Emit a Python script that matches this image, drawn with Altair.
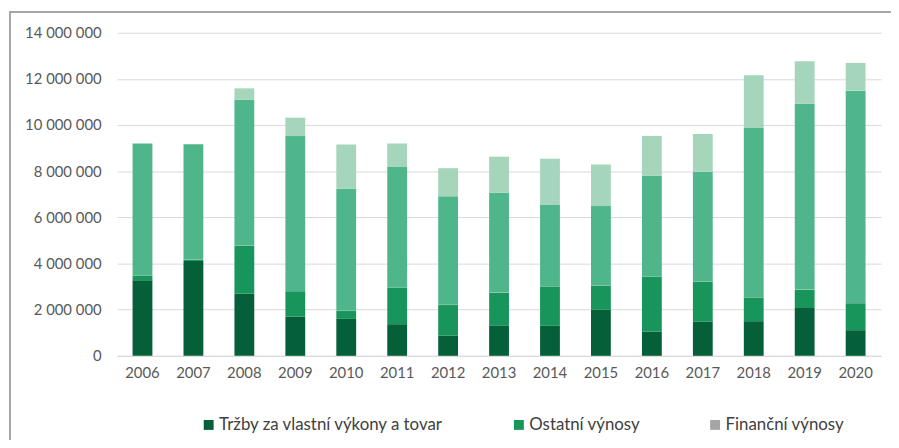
import altair as alt
import pandas as pd

years = [str(y) for y in range(2006, 2021)]
trzby = [3.27, 4.11, 2.70, 1.70, 1.60, 1.37, 0.87, 1.32, 1.30, 2.01, 1.04, 1.49, 1.50, 2.07, 1.11]
ostatne = [0.21, 0.06, 2.07, 1.10, 0.34, 1.57, 1.33, 1.41, 1.71, 1.03, 2.38, 1.72, 1.03, 0.79, 1.17]
financne = [0.01, 0.01, 0.01, 0.01, 0.01, 0.01, 0.01, 0.01, 0.01, 0.01, 0.01, 0.01, 0.01, 0.01, 0.01]
dotacie = [5.71, 4.99, 6.31, 6.71, 5.29, 5.25, 4.70, 4.32, 3.54, 3.44, 4.37, 4.75, 7.33, 8.05, 9.20]
ine = [0.00, 0.00, 0.50, 0.80, 1.92, 1.00, 1.22, 1.57, 1.98, 1.80, 1.73, 1.64, 2.29, 1.84, 1.20]

series_names = ["Tržby za vlastní výkony a tovar", "Ostatní výnosy", "Finanční výnosy",
                "Výnosy z transferov", "Príspevky"]
series_vals = [trzby, ostatne, financne, dotacie, ine]
colors = ["#05603a", "#17955a", "#a5a5a5", "#4fb58a", "#a5d5bb"]

rows = []
for i, (name, vals) in enumerate(zip(series_names, series_vals)):
    for y, v in zip(years, vals):
        rows.append({"rok": y, "séria": name, "hodnota": v * 1_000_000, "poradie": i})
df = pd.DataFrame(rows)

font = "Lato"

bars = alt.Chart(df).mark_bar(size=20).encode(
    x=alt.X("rok:N", title=None, scale=alt.Scale(paddingInner=0.6, paddingOuter=0.3),
            axis=alt.Axis(labelAngle=0, labelFontSize=15, labelColor="#595959", labelFont=font,
                          ticks=False, domain=True, domainColor="#d9d9d9", labelPadding=10)),
    y=alt.Y("hodnota:Q", title=None, stack="zero",
            scale=alt.Scale(domain=[0, 14_000_000], nice=False),
            axis=alt.Axis(values=[0, 2e6, 4e6, 6e6, 8e6, 10e6, 12e6, 14e6],
                          labelExpr="replace(format(datum.value, ','), regexp(',', 'g'), ' ')",
                          labelFontSize=15, labelColor="#595959", labelFont=font,
                          ticks=False, domain=False, gridColor="#d9d9d9", labelPadding=16)),
    color=alt.Color("séria:N", scale=alt.Scale(domain=series_names, range=colors),
                    legend=alt.Legend(title=None, orient="none", legendX=84, legendY=387,
                                      direction="horizontal", values=series_names[:3],
                                      symbolType="square", symbolSize=100, symbolStrokeWidth=0,
                                      labelFontSize=17, labelColor="#404040", labelFont=font,
                                      labelLimit=0, columnPadding=67, symbolOffset=0,
                                      labelOffset=2)),
    order=alt.Order("poradie:Q", sort="ascending"),
)

frame_df = pd.DataFrame({"a": [0]})
frame_left = alt.Chart(frame_df).mark_rule(color="#a6a6a6", strokeWidth=2).encode(
    x=alt.value(-108), y=alt.value(-21), y2=alt.value(420))
frame_top = alt.Chart(frame_df).mark_rule(color="#a6a6a6", strokeWidth=2).encode(
    x=alt.value(-109), x2=alt.value(790), y=alt.value(-21))

chart = alt.layer(bars, frame_left, frame_top).properties(
    width=771, height=326,
    autosize=alt.AutoSizeParams(type="none"),
    padding={"left": 110, "top": 23, "right": 10, "bottom": 83},
).configure_view(stroke=None)

chart.save("out.html", embed_options={"renderer": "svg", "actions": False})
